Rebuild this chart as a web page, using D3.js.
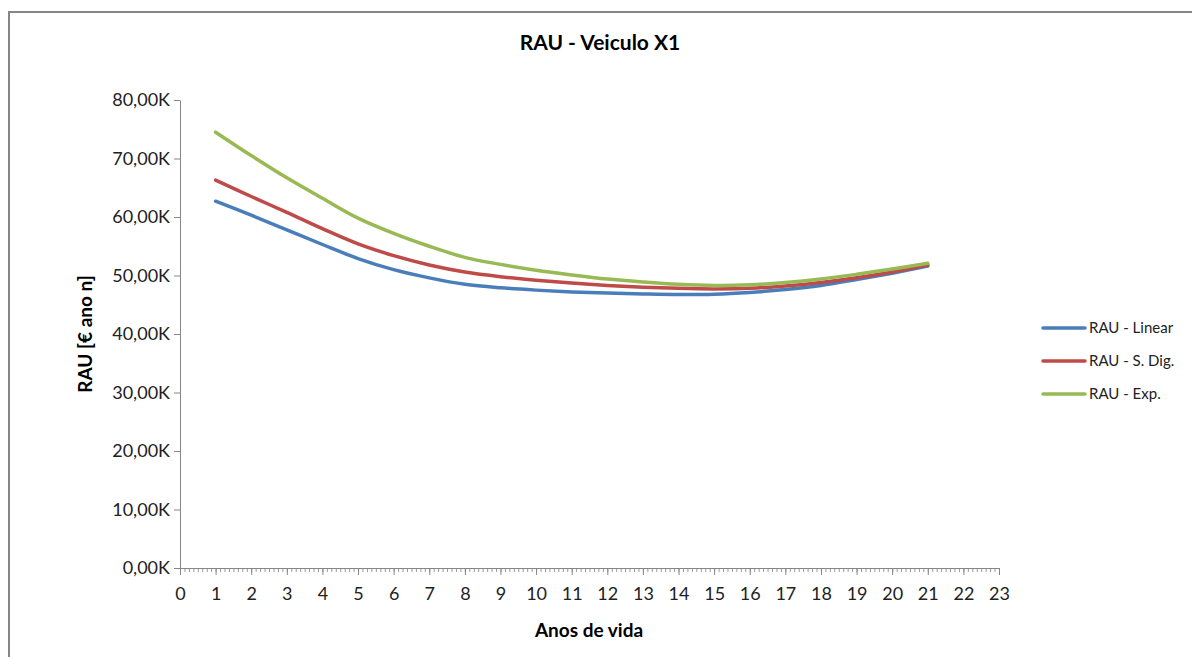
<!DOCTYPE html>
<html>
<head>
<meta charset="utf-8">
<script src="https://cdn.jsdelivr.net/npm/d3@7"></script>
<style>
  body { margin: 0; background: #fff; }
  text { font-family: Lato, "Open Sans", sans-serif; }
</style>
</head>
<body>
<div id="chart"></div>
<script>
let width = 1192
let height = 657

// data (values in K€)
let years = [1, 2, 3, 4, 5, 6, 7, 8, 9, 10, 11, 12, 13, 14, 15, 16, 17, 18, 19, 20, 21]
let linear = [62.7, 60.3, 57.8, 55.3, 52.9, 51.0, 49.6, 48.5, 47.9, 47.5, 47.2, 47.0, 46.85, 46.75, 46.8, 47.1, 47.6, 48.3, 49.3, 50.4, 51.6]
let sdig = [66.3, 63.5, 60.8, 58.0, 55.4, 53.4, 51.8, 50.6, 49.8, 49.2, 48.7, 48.3, 48.0, 47.8, 47.7, 47.8, 48.2, 48.8, 49.6, 50.6, 51.8]
let expo = [74.5, 70.5, 66.7, 63.2, 59.8, 57.2, 55.0, 53.1, 51.9, 50.9, 50.1, 49.4, 48.9, 48.5, 48.3, 48.4, 48.8, 49.4, 50.2, 51.1, 52.1]
let seriesNames = ["RAU - Linear", "RAU - S. Dig.", "RAU - Exp."]
let colors = ["#4A7EBB", "#BE4B48", "#98B954"]
let yTicks = [0, 10, 20, 30, 40, 50, 60, 70, 80]
let xTicks = d3.range(0, 24)

let series = [linear, sdig, expo].map(function(vals, i) {
  return { name: seriesNames[i], color: colors[i], points: years.map(function(y, j) { return { x: y, v: vals[j] } }) }
})

let svg = d3.select("#chart")
  .append("svg")
  .attr("width", width)
  .attr("height", height)

// chart border (only top and left visible in the crop)
svg.append("path")
  .attr("d", "M9,657 V12 H1192")
  .attr("fill", "none")
  .attr("stroke", "#868686")
  .attr("stroke-width", 2)

let x = d3.scaleLinear().domain([0, 23]).range([180, 999])
let y = d3.scaleLinear().domain([0, 80]).range([568, 100])

// title
svg.append("text")
  .attr("x", 600)
  .attr("y", 50)
  .attr("text-anchor", "middle")
  .style("font-size", "21px")
  .style("font-weight", "bold")
  .text("RAU - Veiculo X1")

// y axis
let yAxis = svg.append("g")
  .attr("transform", "translate(180,0)")
  .call(d3.axisLeft(y).tickValues(yTicks).tickSize(6).tickSizeOuter(0)
    .tickFormat(function(d) { return d + ",00K" }))
yAxis.select(".domain").attr("stroke", "#868686")
yAxis.selectAll(".tick line").attr("stroke", "#868686")
yAxis.selectAll(".tick text")
  .attr("x", -10)
  .style("font-size", "18px")
  .style("font-family", "Lato, sans-serif")
  .attr("fill", "#222")

// x axis minor ticks
let xMinor = svg.append("g")
  .attr("transform", "translate(0,568)")
  .call(d3.axisBottom(x).tickValues(d3.range(0, 185).map(function(d) { return d / 8 })).tickSize(4).tickFormat(""))
xMinor.select(".domain").remove()
xMinor.selectAll(".tick line").attr("stroke", "#9a9a9a")

// x axis major
let xAxis = svg.append("g")
  .attr("transform", "translate(0,568)")
  .call(d3.axisBottom(x).tickValues(xTicks).tickSize(7).tickSizeOuter(0))
xAxis.select(".domain").attr("stroke", "#868686")
xAxis.selectAll(".tick line").attr("stroke", "#868686")
xAxis.selectAll(".tick text")
  .attr("y", 19)
  .style("font-size", "18px")
  .style("font-family", "Lato, sans-serif")
  .attr("fill", "#222")

// axis titles
svg.append("text")
  .attr("x", 589)
  .attr("y", 637)
  .attr("text-anchor", "middle")
  .style("font-size", "19px")
  .style("font-weight", "bold")
  .text("Anos de vida")

svg.append("text")
  .attr("transform", "translate(92,334) rotate(-90)")
  .attr("text-anchor", "middle")
  .style("font-size", "19px")
  .style("font-weight", "bold")
  .text("RAU [€ ano n]")

// lines
let line = d3.line()
  .x(function(d) { return x(d.x) })
  .y(function(d) { return y(d.v) })
  .curve(d3.curveCatmullRom.alpha(0.5))

svg.append("g")
  .selectAll("path")
  .data(series)
  .enter()
  .append("path")
    .attr("d", function(d) { return line(d.points) })
    .attr("fill", "none")
    .attr("stroke", function(d) { return d.color })
    .attr("stroke-width", 3.5)
    .attr("stroke-linecap", "round")

// legend
let legend = svg.append("g")
  .selectAll("g")
  .data(series)
  .enter()
  .append("g")
    .attr("transform", function(d, i) { return "translate(1043," + (328 + i * 33) + ")" })

legend.append("line")
  .attr("x1", 0).attr("x2", 42)
  .attr("stroke", function(d) { return d.color })
  .attr("stroke-width", 3.5)
  .attr("stroke-linecap", "round")

legend.append("text")
  .attr("x", 46)
  .attr("dy", "0.35em")
  .style("font-size", "15px")
  .attr("fill", "#222")
  .text(function(d) { return d.name })
</script>
</body>
</html>
